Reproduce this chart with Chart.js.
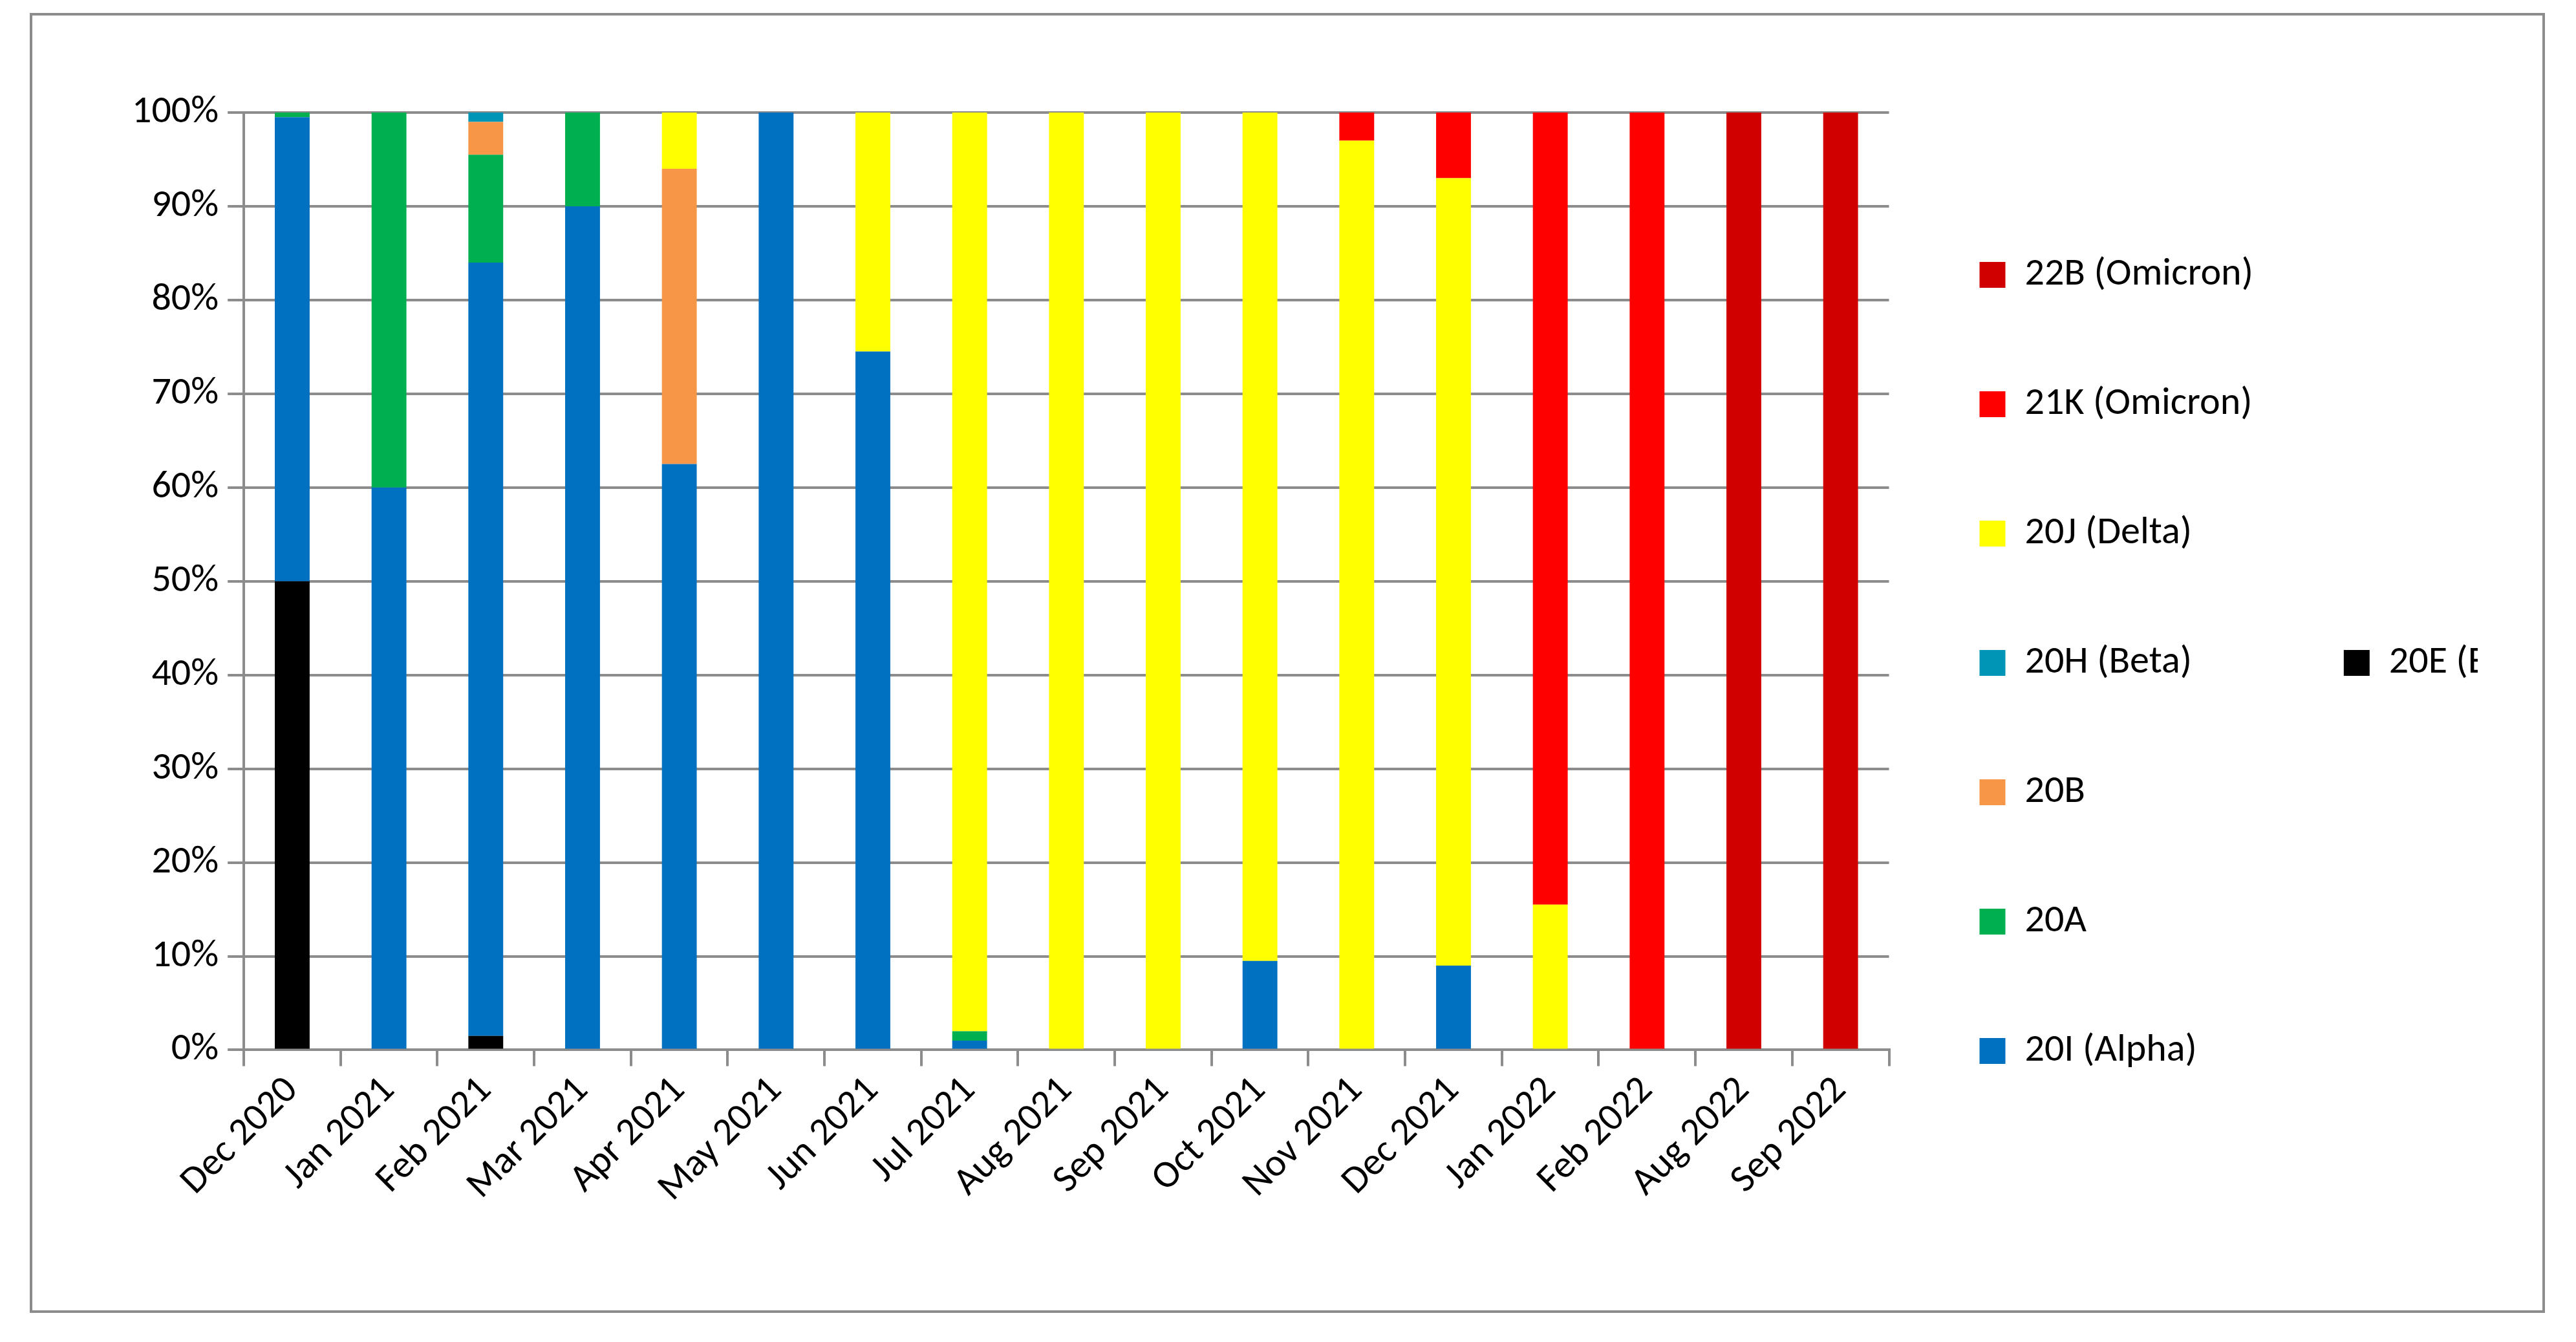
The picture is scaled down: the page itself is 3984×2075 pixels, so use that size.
<!DOCTYPE html>
<html>
<head>
<meta charset="utf-8">
<script src="https://cdn.jsdelivr.net/npm/chart.js@4"></script>
<style>
  html, body { margin: 0; background: #fff; }
  #frame { position: absolute; left: 46px; top: 20px; width: 3890px; height: 2010px; border: 4px solid #8c8c8c; box-sizing: border-box; }
  #wrap { position: absolute; left: 0; top: 0; width: 3882px; height: 2002px; }
</style>
</head>
<body>
<div id="frame"><div id="wrap"><canvas id="chart"></canvas></div></div>
<script>
const months = ["Dec 2020", "Jan 2021", "Feb 2021", "Mar 2021", "Apr 2021", "May 2021", "Jun 2021",
    "Jul 2021", "Aug 2021", "Sep 2021", "Oct 2021", "Nov 2021", "Dec 2021", "Jan 2022",
    "Feb 2022", "Aug 2022", "Sep 2022"];

const v20E = [50, 0, 1.5, 0, 0, 0, 0, 0, 0, 0, 0, 0, 0, 0, 0, 0, 0];
const v20I = [49.5, 60, 82.5, 90, 62.5, 100, 74.5, 1, 0, 0, 9.5, 0, 9, 0, 0, 0, 0];
const v20A = [0.5, 40, 11.5, 10, 0, 0, 0, 1, 0, 0, 0, 0, 0, 0, 0, 0, 0];
const v20B = [0, 0, 3.5, 0, 31.5, 0, 0, 0, 0, 0, 0, 0, 0, 0, 0, 0, 0];
const v20H = [0, 0, 1, 0, 0, 0, 0, 0, 0, 0, 0, 0, 0, 0, 0, 0, 0];
const v20J = [0, 0, 0, 0, 6, 0, 25.5, 98, 100, 100, 90.5, 97, 84, 15.5, 0, 0, 0];
const v21K = [0, 0, 0, 0, 0, 0, 0, 0, 0, 0, 0, 3, 7, 84.5, 100, 0, 0];
const v22B = [0, 0, 0, 0, 0, 0, 0, 0, 0, 0, 0, 0, 0, 0, 0, 100, 100];
const yTicks = [0, 10, 20, 30, 40, 50, 60, 70, 80, 90, 100];

function series(label, data, color) {
    return { label: label, data: data, backgroundColor: color, borderWidth: 0,
        barPercentage: 0.36, categoryPercentage: 1 };
}

const ctx = document.getElementById("chart").getContext("2d");

new Chart(ctx, {
    type: 'bar',
    data: {
        labels: months,
        datasets: [
            series('20E (EU1)', v20E, '#000000'),
            series('20I (Alpha)', v20I, '#0070c0'),
            series('20A', v20A, '#00b050'),
            series('20B', v20B, '#f79646'),
            series('20H (Beta)', v20H, '#0095b6'),
            series('20J (Delta)', v20J, '#ffff00'),
            series('21K (Omicron)', v21K, '#ff0000'),
            series('22B (Omicron)', v22B, '#d00000')
        ]
    },
    options: {
        responsive: true,
        maintainAspectRatio: false,
        animation: false,
        layout: { padding: { left: 140, top: 150, right: 100, bottom: 150 } },
        scales: {
            x: {
                stacked: true,
                grid: { display: true, drawOnChartArea: false, color: '#8c8c8c', lineWidth: 4, tickLength: 25, offset: true },
                border: { color: '#8c8c8c', width: 4 },
                ticks: { color: '#000', font: { family: 'Calibri, Carlito, "Open Sans", sans-serif', size: 60 },
                    maxRotation: 45, minRotation: 45, autoSkip: false }
            },
            y: {
                stacked: true,
                min: 0,
                max: 100,
                afterBuildTicks: axis => { axis.ticks = yTicks.map(v => ({ value: v })); },
                grid: { color: '#8c8c8c', lineWidth: 4, tickLength: 25 },
                border: { color: '#8c8c8c', width: 4 },
                ticks: { color: '#000', padding: 14, font: { family: 'Calibri, Carlito, "Open Sans", sans-serif', size: 60 },
                    callback: v => v + '%' }
            }
        },
        plugins: {
            legend: {
                position: 'right',
                reverse: true,
                labels: {
                    color: '#000',
                    boxWidth: 40,
                    boxHeight: 40,
                    padding: 140,
                    font: { family: 'Calibri, Carlito, "Open Sans", sans-serif', size: 60 }
                }
            },
            tooltip: { enabled: false }
        }
    }
});
</script>
</body>
</html>
